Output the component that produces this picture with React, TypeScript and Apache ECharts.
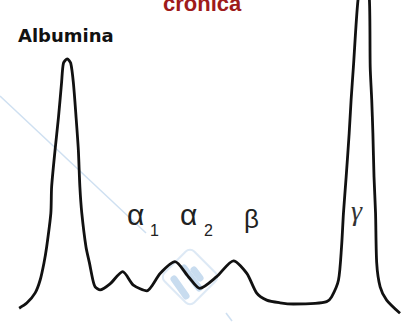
import React, { useEffect, useRef } from "react";
import * as echarts from "echarts";

// Electrophoretic mobility (0 = start, 100 = end of strip)
const mobility = [
  0.3, 2.3, 4.5, 5.8, 6.8, 7.5, 8.6, 8.8, 9.7, 10.6, 11.4, 11.9, 12.9, 13.8, 14.5,
  15.2, 15.8, 16.2, 16.7, 17.8, 18.7, 19.6, 20.2, 21.5, 24.1, 27.4, 30.2, 33.7,
  37.2, 41.1, 44.6, 47.6, 52.0, 56.4, 59.9, 62.5, 65.1, 68.6, 72.1, 77.8, 80.8,
  82.1, 83.9, 84.7, 85.2, 85.9, 86.7, 87.2, 87.8, 89.0, 90.4, 92.0, 92.2, 92.6,
  92.9, 93.2, 93.6, 93.9, 94.8, 96.5, 100,
];
// Relative absorbance (densitometer trace)
const absorbance = [
  0.6, 2.3, 5.7, 10, 15.7, 21, 32.3, 41, 53.3, 64.3, 75.7, 82.3, 83.7, 82.3, 75.7,
  64.3, 53.3, 41, 32.3, 21, 15.7, 10, 7.7, 6.7, 8.7, 12.8, 8.3, 6.4,
  12.2, 16.1, 11.1, 7.2, 11.1, 16.4, 12.2, 5.6, 3.3, 2.4, 2.0, 2.2, 2.8,
  4.4, 10, 21.1, 32.3, 44.3, 59, 70, 81, 103.3, 113.3, 103.3, 81, 70,
  59, 44.3, 32.3, 15.7, 7.7, 3.3, -1.1,
];
const fractionNames = ["Albumina", "α", "α", "β", "γ"];
const subscripts = ["1", "2"];
const titleText = "crónica";

export default function App() {
  const ref = useRef<HTMLDivElement>(null);
  useEffect(() => {
    document.body.style.margin = "0";
    const chart = echarts.init(ref.current!, null, { renderer: "svg" });
    const data = mobility.map((m, i) => [m, absorbance[i]]);
    const wm = "#cfe0f1";
    chart.setOption({
      animation: false,
      backgroundColor: "#ffffff",
      grid: { left: 18, right: 6, top: 10, bottom: 16 },
      xAxis: { type: "value", min: 0, max: 100, show: false },
      yAxis: { type: "value", min: 0, max: 100, show: false },
      graphic: [
        // faint watermark
        { type: "line", z: 0, shape: { x1: 0, y1: 96, x2: 146, y2: 233 }, style: { stroke: wm, lineWidth: 1.5 } },
        { type: "line", z: 0, shape: { x1: 226, y1: 313, x2: 232, y2: 321 }, style: { stroke: wm, lineWidth: 1.5 } },
        {
          type: "rect", z: 0, x: 190, y: 277, rotation: Math.PI / 4,
          shape: { x: -21, y: -21, width: 42, height: 42, r: 6 },
          style: { fill: "none", stroke: "#dde9f5", lineWidth: 2 },
        },
        { type: "line", z: 0, shape: { x1: 174, y1: 279, x2: 186, y2: 296 }, style: { stroke: "#c8dcef", lineWidth: 7, lineCap: "round" } },
        { type: "line", z: 0, shape: { x1: 184, y1: 268, x2: 199, y2: 288 }, style: { stroke: "#c8dcef", lineWidth: 7, lineCap: "round" } },
        { type: "line", z: 0, shape: { x1: 194, y1: 270, x2: 200, y2: 278 }, style: { stroke: "#c8dcef", lineWidth: 7, lineCap: "round" } },
        // texts
        {
          type: "text", x: 163, y: 3,
          style: { text: titleText, font: 'bold 22px "Liberation Sans"', fill: "#9e1b1b", align: "left", verticalAlign: "middle" },
        },
        {
          type: "text", x: 18, y: 35,
          style: { text: fractionNames[0], font: 'bold 18px "DejaVu Sans"', fill: "#111", align: "left", verticalAlign: "middle" },
        },
        {
          type: "text", x: 127, y: 214,
          style: { text: fractionNames[1], font: '30px "Liberation Sans"', fill: "#222", align: "left", verticalAlign: "middle" },
        },
        {
          type: "text", x: 150, y: 230,
          style: { text: subscripts[0], font: '16px "Liberation Sans"', fill: "#222", align: "left", verticalAlign: "middle" },
        },
        {
          type: "text", x: 180, y: 214,
          style: { text: fractionNames[2], font: '30px "Liberation Sans"', fill: "#222", align: "left", verticalAlign: "middle" },
        },
        {
          type: "text", x: 204, y: 230,
          style: { text: subscripts[1], font: '16px "Liberation Sans"', fill: "#222", align: "left", verticalAlign: "middle" },
        },
        {
          type: "text", x: 244, y: 219,
          style: { text: fractionNames[3], font: '26px "Liberation Sans"', fill: "#222", align: "left", verticalAlign: "middle" },
        },
        {
          type: "text", x: 351, y: 210,
          style: { text: fractionNames[4], font: 'italic 28px "Liberation Serif"', fill: "#333", align: "left", verticalAlign: "middle" },
        },
      ],
      series: [
        {
          type: "line",
          data,
          showSymbol: false,
          smooth: 0.25,
          clip: false,
          z: 5,
          lineStyle: { color: "#111", width: 2.8 },
        },
      ],
    });
    return () => chart.dispose();
  }, []);
  return <div ref={ref} style={{ width: 406, height: 326 }} />;
}
